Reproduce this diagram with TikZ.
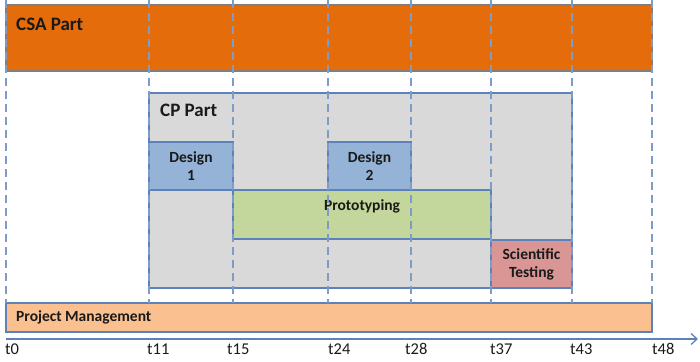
\documentclass[tikz,border=0pt]{standalone}
\usepackage{fontspec}
\setmainfont{Carlito}
\usetikzlibrary{arrows.meta}
\definecolor{csaor}{HTML}{E46C0A}
\definecolor{cpgray}{HTML}{D9D9D9}
\definecolor{dsblue}{HTML}{95B3D7}
\definecolor{prgreen}{HTML}{C3D69B}
\definecolor{strose}{HTML}{D99694}
\definecolor{pmpeach}{HTML}{FAC090}
\definecolor{edgeblue}{HTML}{5B82BA}
\definecolor{edgegray}{HTML}{7F7F7F}
\definecolor{dashblue}{HTML}{7E9CC8}
\definecolor{txt}{HTML}{1A1A1A}
\tikzset{
  bar/.style={draw=edgeblue, line width=1.2pt, inner sep=0pt, outer sep=0pt},
  task/.style={bar, line width=1.5pt, text=txt, font=\bfseries\fontsize{15.5}{18}\selectfont, align=center},
  title/.style={text=txt, font=\bfseries\fontsize{19}{21}\selectfont, anchor=west, inner sep=0pt},
  grid/.style={draw=dashblue, line width=1.2pt, dash pattern=on 8pt off 5pt},
  tick/.style={text=txt, font=\fontsize{16.5}{18}\selectfont, anchor=west, inner sep=0pt},
}
\begin{document}
\begin{tikzpicture}[x=1pt,y=-1pt]
\useasboundingbox (0,0) rectangle (700,361);
% bars
\node[bar, draw=edgegray, fill=csaor, minimum width=646pt, minimum height=66pt] (csa) at (329,38) {};
\node[title] (csalbl) at (16,24) {CSA Part};
\node[bar, fill=cpgray, minimum width=423pt, minimum height=195pt] (cp) at (360.5,190.5) {};
\node[title] (cplbl) at (160,110) {CP Part};
\node[task, fill=dsblue, minimum width=84pt, minimum height=48pt] (d1) at (191,166) {Design\\1};
\node[task, fill=dsblue, minimum width=83pt, minimum height=48pt] (d2) at (369.5,166) {Design\\2};
\node[task, fill=prgreen, minimum width=258pt, minimum height=49pt] (proto) at (362,214.5) {};
\node[text=txt, font=\bfseries\fontsize{15.5}{18}\selectfont, inner sep=0pt] (protolbl) at (362,206) {Prototyping};
\node[task, fill=strose, minimum width=81pt, minimum height=48pt] (st) at (531.5,264) {Scientific\\Testing};
% grid lines
\foreach \n/\x in {t0/6,t11/149,t15/233,t24/328,t28/411,t37/491,t43/572,t48/652}{
  \coordinate (g\n) at (\x,0);
}
\node[bar, fill=pmpeach, minimum width=646pt, minimum height=29pt] (pm) at (329,317.5) {};
\foreach \n in {t0,t11,t15,t24,t28,t37,t43,t48}{
  \draw[grid] (g\n) -- (g\n |- pm.north);
}
\node[text=txt, font=\bfseries\fontsize{15.5}{17}\selectfont, anchor=west, inner sep=0pt] (pmlbl) at (16,317.5) {Project Management};
% axis
\coordinate (ax0) at (6,339);
\coordinate (ax1) at (698,339);
\draw[draw=edgeblue, line width=1.3pt, -{Straight Barb[length=6pt,width=11pt]}] (ax0) -- (ax1);
\foreach \n/\x in {t0/5,t11/147,t15/227,t24/328,t28/405,t37/490,t43/570,t48/652}{
  \node[tick] (l\n) at (\x,349) {\n};
}
\end{tikzpicture}
\end{document}
